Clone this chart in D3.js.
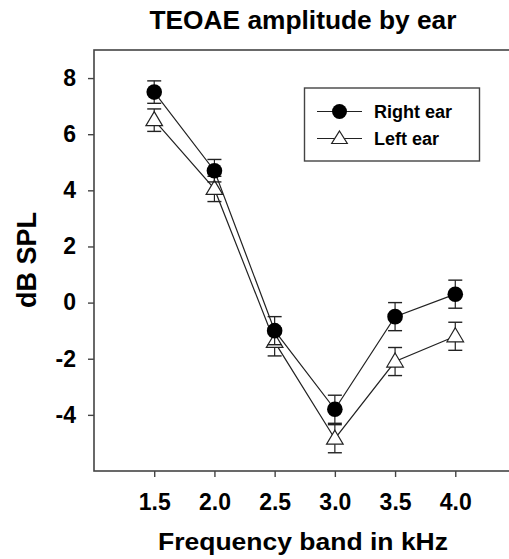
<!DOCTYPE html>
<html>
<head>
<meta charset="utf-8">
<script src="https://cdn.jsdelivr.net/npm/d3@7/dist/d3.min.js"></script>
<style>
  html, body { margin: 0; padding: 0; background: #fff; }
  svg { display: block; font-family: "Liberation Sans", Arial, sans-serif; font-weight: bold; }
</style>
</head>
<body>
<svg id="chart" width="509" height="559"></svg>
<script>
// ---- data ----
const bands = [1.5, 2.0, 2.5, 3.0, 3.5, 4.0];
const rightEar = [7.5, 4.7, -1.0, -3.8, -0.5, 0.3];
const rightErr = [0.4, 0.4, 0.5, 0.5, 0.5, 0.5];
const leftEar = [6.5, 4.05, -1.4, -4.85, -2.1, -1.2];
const leftErr = [0.4, 0.45, 0.5, 0.5, 0.5, 0.5];
const xTicks = [1.5, 2.0, 2.5, 3.0, 3.5, 4.0];
const yTicks = [-4, -2, 0, 2, 4, 6, 8];
const seriesNames = ["Right ear", "Left ear"];

(function () {
const svg = d3.select("#chart");
const pL = 94, pT = 50, pR = 515.5, pB = 471;

const x = d3.scaleLinear().domain([1.0, 4.5]).range([pL, pR]);
const y = d3.scaleLinear().domain([-6, 9]).range([pB, pT]);

// frame
svg.append("rect")
  .attr("x", pL).attr("y", pT)
  .attr("width", pR - pL).attr("height", pB - pT)
  .attr("fill", "none").attr("stroke", "#444").attr("stroke-width", 1.6);

// axes
const xAxis = d3.axisBottom(x).tickValues(xTicks).tickFormat(d3.format(".1f")).tickSize(6).tickPadding(17);
const gx = svg.append("g").attr("transform", `translate(0,${pB})`).call(xAxis);
gx.select(".domain").remove();
gx.selectAll(".tick line").attr("stroke", "#444").attr("stroke-width", 1.4);
gx.selectAll(".tick text").attr("font-size", 23).attr("font-weight", "bold")
  .attr("font-family", "Liberation Sans, Arial, sans-serif").attr("fill", "#000");

const yAxis = d3.axisLeft(y).tickValues(yTicks).tickFormat(d => String(d)).tickSize(6).tickPadding(12);
const gy = svg.append("g").attr("transform", `translate(${pL},0)`).call(yAxis);
gy.select(".domain").remove();
gy.selectAll(".tick line").attr("stroke", "#444").attr("stroke-width", 1.4);
gy.selectAll(".tick text").attr("font-size", 23).attr("font-weight", "bold")
  .attr("font-family", "Liberation Sans, Arial, sans-serif").attr("fill", "#000");

// titles
svg.append("text").attr("x", 303).attr("y", 28.5).attr("text-anchor", "middle")
  .attr("font-size", 25).attr("textLength", 307).attr("lengthAdjust", "spacingAndGlyphs")
  .attr("fill", "#000").text("TEOAE amplitude by ear");
svg.append("text").attr("x", 303).attr("y", 550).attr("text-anchor", "middle")
  .attr("font-size", 24).attr("textLength", 290).attr("lengthAdjust", "spacingAndGlyphs")
  .attr("fill", "#000").text("Frequency band in kHz");
svg.append("text").attr("transform", "translate(36,260) rotate(-90)").attr("text-anchor", "middle")
  .attr("font-size", 27).attr("fill", "#000").text("dB SPL");

// series
const triPath = "M0,-8.5 L8.3,5.5 L-8.3,5.5 Z";
function drawSeries(vals, errs, kind) {
  const g = svg.append("g");
  const data = bands.map((b, i) => ({ b, v: vals[i], e: errs[i] }));
  g.append("path").datum(data)
    .attr("d", d3.line().x(d => x(d.b)).y(d => y(d.v)))
    .attr("fill", "none").attr("stroke", "#222").attr("stroke-width", 1.2);
  const eb = g.selectAll(".eb").data(data).enter().append("g");
  eb.append("line").attr("x1", d => x(d.b)).attr("x2", d => x(d.b))
    .attr("y1", d => y(d.v - d.e)).attr("y2", d => y(d.v + d.e))
    .attr("stroke", "#222").attr("stroke-width", 1.2);
  [1, -1].forEach(s => {
    eb.append("line").attr("x1", d => x(d.b) - 7).attr("x2", d => x(d.b) + 7)
      .attr("y1", d => y(d.v + s * d.e)).attr("y2", d => y(d.v + s * d.e))
      .attr("stroke", "#222").attr("stroke-width", 1.4);
  });
  if (kind === "circle") {
    g.selectAll(".m").data(data).enter().append("circle")
      .attr("cx", d => x(d.b)).attr("cy", d => y(d.v)).attr("r", 7.8).attr("fill", "#000");
  } else {
    g.selectAll(".m").data(data).enter().append("path")
      .attr("transform", d => `translate(${x(d.b)},${y(d.v)})`)
      .attr("d", triPath).attr("fill", "#fff").attr("stroke", "#222").attr("stroke-width", 1.2);
  }
}
drawSeries(leftEar, leftErr, "tri");
drawSeries(rightEar, rightErr, "circle");

// legend
const lg = svg.append("g");
lg.append("rect").attr("x", 304.5).attr("y", 88).attr("width", 175).attr("height", 73)
  .attr("fill", "#fff").attr("stroke", "#444").attr("stroke-width", 1.4);
const rows = [{ name: seriesNames[0], kind: "circle", yy: 111.5 }, { name: seriesNames[1], kind: "tri", yy: 138.5 }];
rows.forEach(r => {
  lg.append("line").attr("x1", 317).attr("x2", 362).attr("y1", r.yy).attr("y2", r.yy)
    .attr("stroke", "#222").attr("stroke-width", 1.2);
  if (r.kind === "circle") {
    lg.append("circle").attr("cx", 339.5).attr("cy", r.yy).attr("r", 7.5).attr("fill", "#000");
  } else {
    lg.append("path").attr("transform", `translate(339.5,${r.yy})`).attr("d", "M0,-7.5 L7.8,5 L-7.8,5 Z")
      .attr("fill", "#fff").attr("stroke", "#222").attr("stroke-width", 1.2);
  }
  lg.append("text").attr("x", 374).attr("y", r.yy + 6.5).attr("font-size", 18).attr("fill", "#000").text(r.name);
});
})();
</script>
</body>
</html>
